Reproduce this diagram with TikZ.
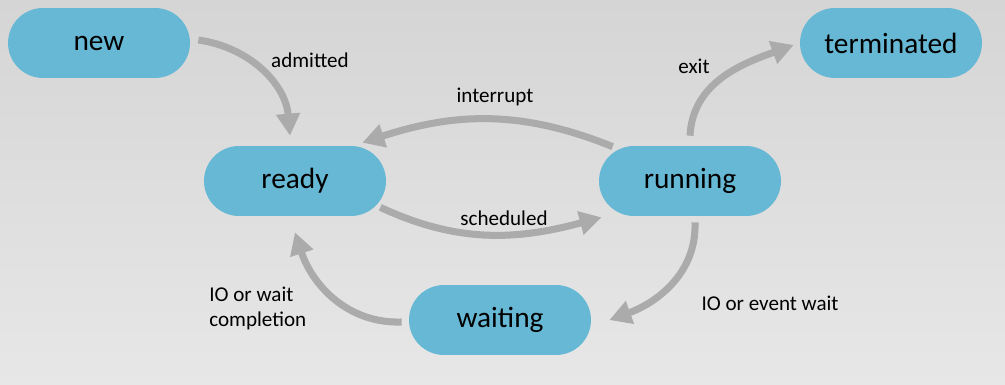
\documentclass[tikz,border=0pt]{standalone}
\usepackage{fontspec}
\setmainfont{Carlito}
\usepackage{xcolor}
\usepackage{tikz}
\usetikzlibrary{arrows.meta}
\definecolor{stateColor}{HTML}{67B8D5}
\definecolor{flowColor}{HTML}{ABABAB}
\definecolor{bgTop}{HTML}{D6D5D6}
\definecolor{bgBottom}{HTML}{E7E7E7}

\begin{document}
\begin{tikzpicture}[x=0.02cm,y=0.02cm,
state/.style={shape=rectangle,rounded corners=0.7cm,fill=stateColor,draw=none,
    minimum width=3.64cm,minimum height=1.4cm,inner sep=0,
    font=\fontsize{16.7}{20}\selectfont},
flow/.style={line width=4pt,draw=flowColor,
    -{Triangle[length=0.44cm,width=0.46cm]}},
flowLabel/.style={font=\fontsize{12}{14.2}\selectfont,inner sep=0}
]
% background
\shade[top color=bgTop,bottom color=bgBottom] (0,0) rectangle (1005,385);
\useasboundingbox (0,0) rectangle (1005,385);

\node[state] (new)        at (99,342)  {new};
\node[state] (terminated) at (891,342) {terminated};
\node[state] (ready)      at (295,204) {ready};
\node[state] (running)    at (690,204) {running};
\node[state] (waiting)    at (500,65)  {waiting};

\draw[flow] ([shift={(8,3)}]new.east) to[out=-8,in=95] ([shift={(-5,10)}]ready.north);
\draw[flow] ([shift={(14,-1)}]running.north west) to[out=158,in=18] ([shift={(-24,3)}]ready.north east);
\draw[flow] ([shift={(-6,9)}]ready.south east) to[out=-25,in=195] ([shift={(3,-1)}]running.south west);
\draw[flow] ([shift={(0,10)}]running.north) to[out=87,in=200] ([shift={(-6,-2)}]terminated.west);
\draw[flow] ([shift={(5,-6)}]running.south) to[out=-88,in=20] ([shift={(18,0)}]waiting.east);
\draw[flow] ([shift={(-7,-2)}]waiting.west) to[out=182,in=-72] ([shift={(0,-16)}]ready.south);

\node[flowLabel] (admittedL)   at (310,325) {admitted};
\node[flowLabel] (interruptL)  at (495,288) {interrupt};
\node[flowLabel] (scheduledL)  at (504,167) {scheduled};
\node[flowLabel] (exitL)       at (694,319) {exit};
\node[flowLabel] (eventWaitL)  at (770,82)  {IO or event wait};
\node[flowLabel,align=left,anchor=west] (completionL) at (209,77) {IO or wait\\completion};
\end{tikzpicture}
\end{document}
